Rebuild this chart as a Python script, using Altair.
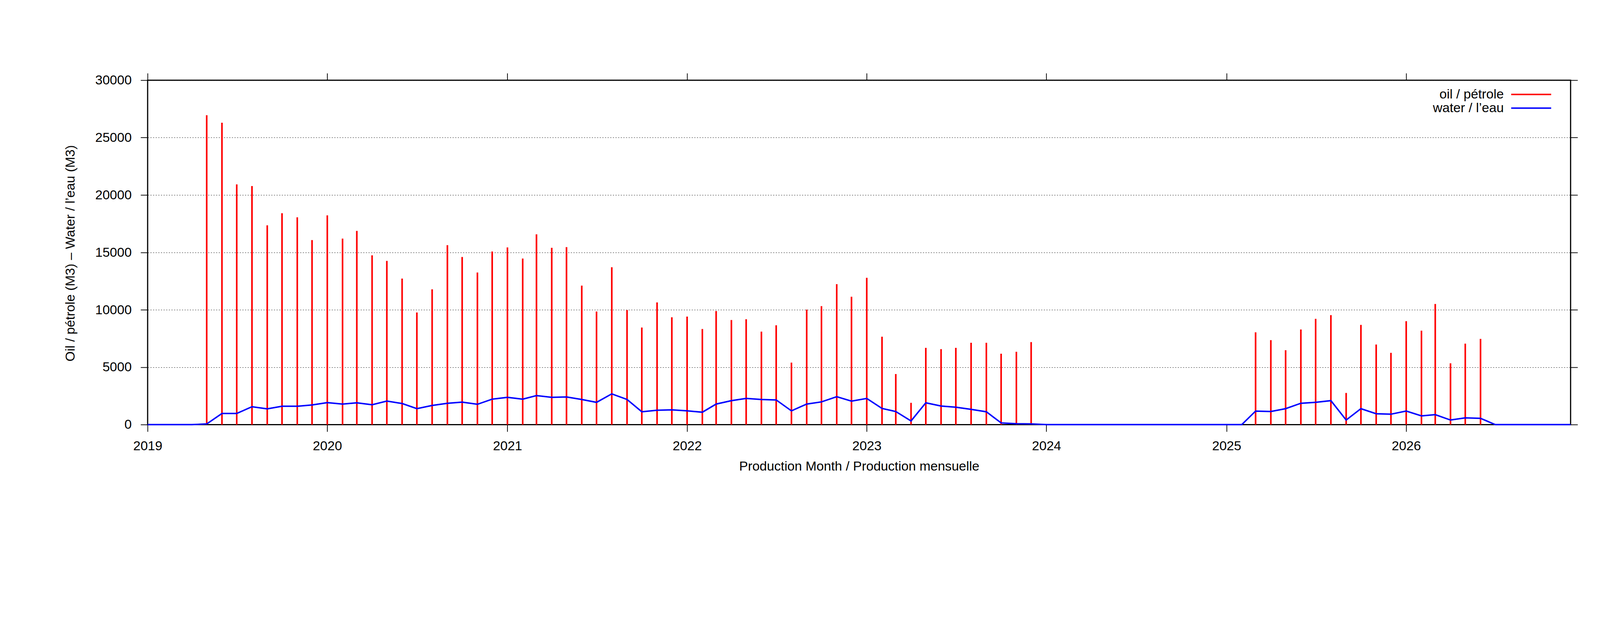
import altair as alt
import pandas as pd

# ---- data ----
months = [f"{y}-{m:02d}-01" for y in range(2019, 2027) for m in range(1, 13)]

# oil / pétrole, May 2019 .. Dec 2023
oil_a_start = "2019-05-01"
oil_a = [26950, 26300, 20930, 20780, 17360, 18420, 18060, 16080,
         18230, 16200, 16880, 14750, 14260, 12720, 9770, 11790, 15630, 14600, 13250, 15080,
         15440, 14470, 16580, 15400, 15460, 12110, 9850, 13710, 9980, 8460, 10650, 9350,
         9410, 8330, 9900, 9110, 9180, 8100, 8650, 5400, 10020, 10320, 12240, 11140,
         12790, 7660, 4410, 1900, 6690, 6580, 6690, 7130, 7130, 6180, 6350, 7190]
# oil / pétrole, Mar 2025 .. Jun 2026
oil_b_start = "2025-03-01"
oil_b = [8040, 7360, 6480, 8290, 9220, 9540, 2760, 8690, 6980, 6250,
         9010, 8190, 10510, 5340, 7050, 7470]

# water / l'eau, Jan 2019 .. Dec 2026
water = [0, 0, 0, 0, 60, 970, 970, 1560, 1370, 1600, 1600, 1710,
         1920, 1790, 1900, 1730, 2050, 1840, 1390, 1670, 1860, 1960, 1770, 2220,
         2380, 2220, 2530, 2380, 2410, 2190, 1940, 2680, 2190, 1120, 1250, 1290,
         1200, 1080, 1790, 2090, 2280, 2190, 2150, 1200, 1790, 1980, 2430, 2050,
         2280, 1410, 1140, 320, 1900, 1620, 1520, 1330, 1120, 150, 80, 60,
         0, 0, 0, 0, 0, 0, 0, 0, 0, 0, 0, 0,
         0, 0, 1180, 1140, 1390, 1860, 1940, 2090, 400, 1390, 950, 910,
         1180, 760, 870, 400, 590, 550, 0, 0, 0, 0, 0, 0]

series_names = ["oil / pétrole", "water / l\u2019eau"]
series_colors = ["#ff0000", "#0000ff"]
y_ticks = [0, 5000, 10000, 15000, 20000, 25000, 30000]

ia = months.index(oil_a_start)
ib = months.index(oil_b_start)
oil_months = months[ia:ia + len(oil_a)] + months[ib:ib + len(oil_b)]
df_oil = pd.DataFrame({"month": oil_months, "value": oil_a + oil_b, "series": series_names[0]})
df_water = pd.DataFrame({"month": months, "value": water, "series": series_names[1]})

FONT = "Liberation Sans"
FS = 45

xscale = alt.Scale(type="utc",
                   domain=[alt.DateTime(year=2019, month=1, date=1, utc=True),
                           alt.DateTime(year=2026, month=12, date=1, utc=True)])
yscale = alt.Scale(domain=[0, 30000], nice=False)
cscale = alt.Scale(domain=series_names, range=series_colors)

# legend: right-aligned label, line sample drawn to its right (custom horizontal path)
legend = alt.Legend(title=None, orient="none", legendX=4365, legendY=26, padding=0,
                    labelAlign="right", labelOffset=235, labelLimit=2000,
                    symbolType="M56.6,0H84", symbolSize=100, symbolStrokeWidth=5,
                    symbolOffset=0, rowPadding=1,
                    labelFontSize=FS, labelFont=FONT, labelColor="black",
                    labelBaseline="middle")

bottom_axis = alt.Axis(orient="bottom", format="%Y", tickCount={"interval": "year", "step": 1},
                       grid=False, domain=False, labelFlush=False, labelBaseline="alphabetic",
                       labelPadding=63, title="Production Month / Production mensuelle",
                       titleY=157, titleBaseline="alphabetic")
left_axis = alt.Axis(orient="left", values=y_ticks, format="d", grid=True, domain=False,
                     labelFlush=False, labelPadding=31,
                     title="Oil / pétrole (M3) \u2013 Water / l\u2019eau (M3)",
                     titleAngle=270, titleX=-250, titleY=592, titleAlign="center",
                     titleBaseline="alphabetic")
top_axis = alt.Axis(orient="top", tickCount={"interval": "year", "step": 1}, labels=False,
                    grid=False, domain=False, title=None)
right_axis = alt.Axis(orient="right", values=y_ticks, labels=False, grid=False,
                      domain=False, title=None)

oil = alt.Chart(df_oil).mark_rule(strokeWidth=5.5, strokeCap="butt").encode(
    x=alt.X("month:T", scale=xscale, axis=bottom_axis),
    y=alt.Y("value:Q", scale=yscale, axis=left_axis),
    y2=alt.datum(0),
    color=alt.Color("series:N", scale=cscale, legend=legend),
)

water_line = alt.Chart(df_water).mark_line(strokeWidth=5).encode(
    x=alt.X("month:T", scale=xscale, axis=top_axis),
    y=alt.Y("value:Q", scale=yscale, axis=right_axis),
    color=alt.Color("series:N", scale=cscale, legend=legend),
)

chart = alt.layer(oil, water_line).resolve_axis(x="independent", y="independent").properties(
    width=4874, height=1179,
    autosize=alt.AutoSizeParams(type="none"),
    padding={"left": 495, "top": 38, "right": 90, "bottom": 120},
    background="white",
).configure_view(
    stroke="black", strokeWidth=4
).configure_axis(
    labelFont=FONT, labelFontSize=FS, labelColor="black",
    titleFont=FONT, titleFontSize=FS, titleColor="black", titleFontWeight="normal",
    tickColor="black", tickWidth=2.5, tickSize=24,
    gridColor="black", gridWidth=1.2, gridDash=[4, 5], gridOpacity=1,
)

chart.save("out.html", embed_options={"renderer": "svg", "actions": False})
